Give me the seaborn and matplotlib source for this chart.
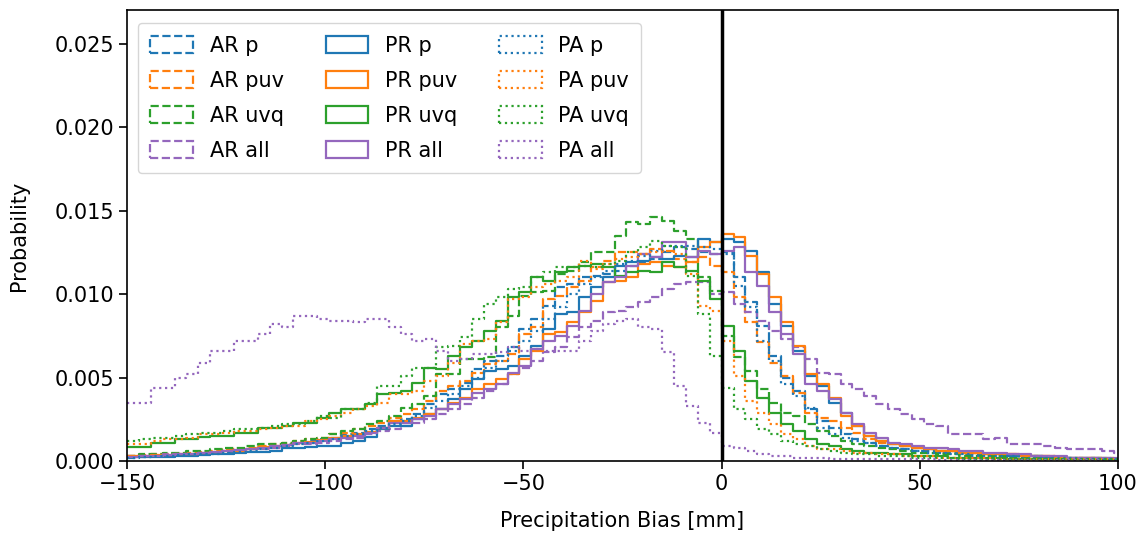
import numpy as np
import pandas as pd
import matplotlib
matplotlib.use("Agg")
import matplotlib.pyplot as plt
import seaborn as sns
from matplotlib.patches import Patch

# Histogram bins: 3 mm wide, starting at -150 mm
bin_edges = np.arange(-150, 103, 3)

variables = ["p", "puv", "uvq", "all"]
groups = ["AR", "PR", "PA"]

# ---- AR (dashed) ----
AR_p = [0.0002, 0.00025, 0.0003, 0.0003, 0.00035, 0.0004, 0.00045, 0.0005, 0.00055, 0.0006,
        0.0007, 0.0008, 0.0009, 0.0010, 0.0011, 0.0012, 0.0013, 0.0014, 0.0016, 0.0017,
        0.0019, 0.0021, 0.0024, 0.0025, 0.0028, 0.0034, 0.0040, 0.0043, 0.0047, 0.0055,
        0.0060, 0.0063, 0.0068, 0.0079, 0.0085, 0.0093, 0.0104, 0.0106, 0.0110, 0.0111,
        0.0112, 0.0114, 0.0117, 0.0119, 0.0121, 0.0125, 0.0128, 0.0127, 0.0125, 0.0124,
        0.0125, 0.0110, 0.0095, 0.0081, 0.0063, 0.0050, 0.0042, 0.0031, 0.0024, 0.0020,
        0.0016, 0.0013, 0.0011, 0.0009, 0.0008, 0.0007, 0.0006, 0.0006, 0.0005, 0.0005,
        0.0004, 0.0004, 0.0004, 0.0003, 0.0003, 0.0003, 0.0003, 0.0002, 0.0002, 0.0002,
        0.0002, 0.0002, 0.0002, 0.0001]
AR_puv = [0.0003, 0.00035, 0.0004, 0.0004, 0.00045, 0.0005, 0.00055, 0.0006, 0.0007, 0.0007,
          0.0008, 0.0009, 0.0010, 0.0011, 0.0012, 0.0013, 0.0014, 0.0016, 0.0017, 0.0019,
          0.0021, 0.0023, 0.0026, 0.0028, 0.0031, 0.0036, 0.0042, 0.0045, 0.0048, 0.0053,
          0.0058, 0.0060, 0.0064, 0.0076, 0.0080, 0.0097, 0.0099, 0.0104, 0.0108, 0.0116,
          0.0120, 0.0125, 0.0125, 0.0124, 0.0127, 0.0126, 0.0121, 0.0119, 0.0122, 0.0117,
          0.0113, 0.0098, 0.0083, 0.0071, 0.0059, 0.0051, 0.0041, 0.0029, 0.0026, 0.0024,
          0.0020, 0.0017, 0.0013, 0.0011, 0.0010, 0.0009, 0.0008, 0.0007, 0.0006, 0.0006,
          0.0005, 0.0005, 0.0004, 0.0004, 0.0004, 0.0003, 0.0003, 0.0003, 0.0002, 0.0002,
          0.0002, 0.0002, 0.0002, 0.0001]
AR_uvq = [0.0003, 0.0004, 0.0004, 0.0005, 0.0005, 0.0006, 0.0006, 0.0007, 0.0008, 0.0008,
          0.0009, 0.0010, 0.0010, 0.0011, 0.0012, 0.0013, 0.0014, 0.0016, 0.0018, 0.0019,
          0.0022, 0.0024, 0.0027, 0.0032, 0.0034, 0.0039, 0.0052, 0.0052, 0.0061, 0.0061,
          0.0062, 0.0080, 0.0087, 0.0099, 0.0101, 0.0102, 0.0112, 0.0114, 0.0119, 0.0125,
          0.0125, 0.0135, 0.0143, 0.0142, 0.0146, 0.0144, 0.0138, 0.0133, 0.0110, 0.0102,
          0.0075, 0.0062, 0.0054, 0.0043, 0.0035, 0.0029, 0.0027, 0.0022, 0.0018, 0.0015,
          0.0012, 0.0010, 0.0009, 0.0008, 0.0007, 0.0006, 0.0005, 0.0005, 0.0004, 0.0004,
          0.0003, 0.0003, 0.0003, 0.0003, 0.0002, 0.0002, 0.0002, 0.0002, 0.0002, 0.0001,
          0.0001, 0.0001, 0.0001, 0.0001]
AR_all = [0.0003, 0.0003, 0.00035, 0.0004, 0.0004, 0.00045, 0.0005, 0.0005, 0.0006, 0.0006,
          0.0007, 0.0007, 0.0008, 0.0009, 0.0010, 0.0010, 0.0011, 0.0012, 0.0013, 0.0014,
          0.0016, 0.0018, 0.0019, 0.0021, 0.0023, 0.0025, 0.0028, 0.0031, 0.0034, 0.0038,
          0.0042, 0.0046, 0.0052, 0.0056, 0.0060, 0.0065, 0.0068, 0.0074, 0.0080, 0.0084,
          0.0089, 0.0090, 0.0092, 0.0095, 0.0098, 0.0103, 0.0106, 0.0107, 0.0107, 0.0100,
          0.0101, 0.0094, 0.0089, 0.0084, 0.0078, 0.0073, 0.0068, 0.0061, 0.0053, 0.0052,
          0.0046, 0.0043, 0.0039, 0.0034, 0.0031, 0.0028, 0.0025, 0.0022, 0.0021, 0.0016,
          0.0016, 0.0016, 0.0013, 0.0014, 0.0010, 0.0010, 0.0010, 0.0009, 0.0008, 0.0007,
          0.0007, 0.0007, 0.0006, 0.0005]

# ---- PR (solid) ----
PR_p = [0.00022, 0.00024, 0.00026, 0.00026, 0.00030, 0.00032, 0.00036, 0.00040, 0.00042, 0.00050,
        0.00055, 0.00056, 0.00060, 0.00075, 0.00080, 0.00082, 0.00088, 0.00092, 0.00105, 0.00118,
        0.00146, 0.0019, 0.0021, 0.0021, 0.0025, 0.0028, 0.0031, 0.0037, 0.0043, 0.0049,
        0.0054, 0.0055, 0.0057, 0.0063, 0.0069, 0.0079, 0.0088, 0.0089, 0.0098, 0.0104,
        0.0110, 0.0117, 0.0119, 0.0120, 0.0122, 0.0121, 0.0123, 0.0122, 0.0133, 0.0131,
        0.0133, 0.0131, 0.0126, 0.0113, 0.0094, 0.0081, 0.0066, 0.0051, 0.0045, 0.0035,
        0.0029, 0.0021, 0.0015, 0.0012, 0.0010, 0.0009, 0.0008, 0.0007, 0.0006, 0.0006,
        0.0005, 0.0005, 0.0004, 0.0004, 0.0003, 0.0003, 0.0003, 0.0002, 0.0002, 0.0002,
        0.0002, 0.0002, 0.0001, 0.0001]
PR_puv = [0.00030, 0.00032, 0.00035, 0.00038, 0.00040, 0.00045, 0.00050, 0.00052, 0.00058, 0.00062,
          0.00070, 0.00085, 0.00090, 0.00098, 0.00110, 0.00112, 0.00125, 0.00135, 0.00150, 0.00160,
          0.00175, 0.0020, 0.0024, 0.0024, 0.0026, 0.0028, 0.0031, 0.0035, 0.0038, 0.0043,
          0.0046, 0.0049, 0.0052, 0.0061, 0.0066, 0.0076, 0.0077, 0.0083, 0.0089, 0.0096,
          0.0107, 0.0108, 0.0110, 0.0118, 0.0119, 0.0117, 0.0116, 0.0119, 0.0128, 0.0131,
          0.0136, 0.0134, 0.0123, 0.0112, 0.0098, 0.0083, 0.0069, 0.0052, 0.0046, 0.0038,
          0.0027, 0.0021, 0.0015, 0.0012, 0.0010, 0.0009, 0.0008, 0.0007, 0.0006, 0.0006,
          0.0005, 0.0005, 0.0004, 0.0004, 0.0004, 0.0003, 0.0003, 0.0003, 0.0002, 0.0002,
          0.0002, 0.0002, 0.0001, 0.0001]
PR_uvq = [0.00086, 0.00086, 0.0011, 0.0011, 0.0013, 0.0013, 0.00146, 0.00148, 0.0015, 0.0017,
          0.0017, 0.00196, 0.00196, 0.0021, 0.0023, 0.0023, 0.0026, 0.0029, 0.0031, 0.0031,
          0.0034, 0.0040, 0.0041, 0.0042, 0.0047, 0.0056, 0.0055, 0.0063, 0.0068, 0.0072,
          0.0078, 0.0084, 0.0098, 0.0101, 0.0110, 0.0108, 0.0113, 0.0116, 0.0117, 0.0118,
          0.0116, 0.0111, 0.0113, 0.0114, 0.0113, 0.0119, 0.0116, 0.0114, 0.0108, 0.0097,
          0.0081, 0.0066, 0.0048, 0.0038, 0.0029, 0.0022, 0.0018, 0.0013, 0.0010, 0.0009,
          0.0007, 0.0006, 0.0005, 0.0005, 0.0004, 0.0004, 0.0003, 0.0003, 0.0003, 0.0002,
          0.0002, 0.0002, 0.0002, 0.0002, 0.0001, 0.0001, 0.0001, 0.0001, 0.0001, 0.0001,
          0.0001, 0.0001, 0.0001, 0.0001]
PR_all = [0.00025, 0.00028, 0.00030, 0.00035, 0.00040, 0.00045, 0.00050, 0.00055, 0.00060, 0.00065,
          0.00070, 0.00080, 0.00090, 0.00095, 0.00105, 0.0011, 0.0012, 0.0013, 0.0014, 0.0015,
          0.0017, 0.0020, 0.0023, 0.0023, 0.0025, 0.0027, 0.0031, 0.0034, 0.0037, 0.0041,
          0.0043, 0.0046, 0.0053, 0.0057, 0.0067, 0.0072, 0.0075, 0.0081, 0.0090, 0.0100,
          0.0107, 0.0110, 0.0117, 0.0124, 0.0122, 0.0131, 0.0131, 0.0122, 0.0126, 0.0124,
          0.0126, 0.0128, 0.0113, 0.0105, 0.0089, 0.0076, 0.0064, 0.0046, 0.0042, 0.0037,
          0.0029, 0.0022, 0.0017, 0.0014, 0.0011, 0.0010, 0.0009, 0.0008, 0.0008, 0.0007,
          0.0006, 0.0006, 0.0005, 0.0005, 0.0004, 0.0004, 0.0003, 0.0003, 0.0003, 0.0002,
          0.0002, 0.0002, 0.0002, 0.0002]

# ---- PA (dotted) ----
PA_p = [0.0002, 0.00025, 0.0003, 0.0003, 0.00035, 0.0004, 0.0004, 0.00045, 0.0005, 0.00055,
        0.0006, 0.0007, 0.0008, 0.0009, 0.0010, 0.0011, 0.0012, 0.0013, 0.0015, 0.0016,
        0.0018, 0.0020, 0.0022, 0.0024, 0.0027, 0.0032, 0.0036, 0.0040, 0.0045, 0.0050,
        0.0056, 0.0060, 0.0066, 0.0072, 0.0078, 0.0085, 0.0092, 0.0100, 0.0106, 0.0110,
        0.0114, 0.0118, 0.0120, 0.0123, 0.0126, 0.0129, 0.0129, 0.0129, 0.0128, 0.0127,
        0.0124, 0.0105, 0.0092, 0.0072, 0.0060, 0.0046, 0.0039, 0.0032, 0.0020, 0.0016,
        0.0014, 0.0012, 0.0011, 0.0009, 0.0008, 0.0007, 0.0006, 0.0005, 0.0005, 0.0004,
        0.0004, 0.0003, 0.0003, 0.0003, 0.0003, 0.0002, 0.0002, 0.0002, 0.0002, 0.0002,
        0.0001, 0.0001, 0.0001, 0.0001]
PA_puv = [0.0010, 0.0010, 0.0012, 0.0013, 0.0013, 0.0014, 0.0016, 0.0016, 0.0017, 0.0018,
          0.0018, 0.0019, 0.0020, 0.0021, 0.0021, 0.0024, 0.0025, 0.0027, 0.0029, 0.0031,
          0.0033, 0.0035, 0.0040, 0.0040, 0.0042, 0.0048, 0.0051, 0.0059, 0.0070, 0.0072,
          0.0073, 0.0083, 0.0097, 0.0098, 0.0104, 0.0106, 0.0108, 0.0110, 0.0120, 0.0115,
          0.0118, 0.0121, 0.0122, 0.0124, 0.0125, 0.0126, 0.0124, 0.0112, 0.0093, 0.0090,
          0.0072, 0.0051, 0.0036, 0.0029, 0.0022, 0.0016, 0.0013, 0.0009, 0.0007, 0.0007,
          0.0006, 0.0005, 0.0005, 0.0004, 0.0004, 0.0003, 0.0003, 0.0003, 0.0002, 0.0002,
          0.0002, 0.0002, 0.0002, 0.0001, 0.0001, 0.0001, 0.0001, 0.0001, 0.0001, 0.0001,
          0.0001, 0.0001, 0.0001, 0.0001]
PA_uvq = [0.0012, 0.0013, 0.0014, 0.0014, 0.0015, 0.0016, 0.0017, 0.0017, 0.0018, 0.0019,
          0.0019, 0.0020, 0.0021, 0.0022, 0.0022, 0.0024, 0.0027, 0.0026, 0.0031, 0.0031,
          0.0035, 0.0045, 0.0045, 0.0051, 0.0056, 0.0056, 0.0068, 0.0069, 0.0074, 0.0085,
          0.0094, 0.0098, 0.0103, 0.0104, 0.0110, 0.0113, 0.0116, 0.0116, 0.0117, 0.0116,
          0.0118, 0.0120, 0.0125, 0.0128, 0.0132, 0.0129, 0.0128, 0.0111, 0.0088, 0.0063,
          0.0044, 0.0031, 0.0025, 0.0019, 0.0016, 0.0012, 0.0010, 0.0009, 0.0007, 0.0006,
          0.0005, 0.0004, 0.0004, 0.0003, 0.0003, 0.0003, 0.0002, 0.0002, 0.0002, 0.0002,
          0.0001, 0.0001, 0.0001, 0.0001, 0.0001, 0.0001, 0.0001, 0.0001, 0.0001, 0.0001,
          0.0001, 0.0001, 0.0001, 0.0001]
PA_all = [0.0035, 0.0035, 0.0044, 0.0044, 0.0050, 0.0052, 0.0059, 0.0066, 0.0066, 0.0072,
          0.0072, 0.0076, 0.0082, 0.0080, 0.0087, 0.0087, 0.0085, 0.0084, 0.0084, 0.0083,
          0.0085, 0.0085, 0.0080, 0.0076, 0.0072, 0.0073, 0.0066, 0.0060, 0.0061, 0.0064,
          0.0064, 0.0065, 0.0068, 0.0066, 0.0067, 0.0066, 0.0066, 0.0066, 0.0072, 0.0078,
          0.0082, 0.0084, 0.0085, 0.0080, 0.0079, 0.0065, 0.0045, 0.0033, 0.0023, 0.0017,
          0.0009, 0.0008, 0.0006, 0.0004, 0.0003, 0.0003, 0.0002, 0.0002, 0.0002, 0.00015,
          0.00015, 0.0001, 0.0001, 0.0001, 0.0001, 0.0001, 0.0001, 0.0001, 0.00008, 0.00008,
          0.00008, 0.00006, 0.00006, 0.00006, 0.00005, 0.00005, 0.00005, 0.00005, 0.00004, 0.00004,
          0.00004, 0.00004, 0.00003, 0.00003]

series = {
    "AR": [AR_p, AR_puv, AR_uvq, AR_all],
    "PR": [PR_p, PR_puv, PR_uvq, PR_all],
    "PA": [PA_p, PA_puv, PA_uvq, PA_all],
}
linestyles = {"AR": "--", "PR": "-", "PA": ":"}
colors = ["#1f77b4", "#ff7f0e", "#2ca02c", "#9467bd"]

plt.rcParams["font.family"] = ["DejaVu Sans"]
fig, ax = plt.subplots(figsize=(11.48, 5.37), dpi=100)
fig.subplots_adjust(left=0.1106, right=0.9739, top=0.981, bottom=0.1415)

bin_centers = (bin_edges[:-1] + bin_edges[1:]) / 2
handles = []
for g in groups:
    for var, vals, col in zip(variables, series[g], colors):
        df = pd.DataFrame({"bias": bin_centers, "w": vals})
        sns.histplot(data=df, x="bias", weights="w", bins=list(bin_edges), element="step",
                     fill=False, color=col, linestyle=linestyles[g], linewidth=1.6,
                     ax=ax)
        handles.append(Patch(facecolor="none", edgecolor=col, linestyle=linestyles[g],
                             linewidth=1.6, label=f"{g} {var}"))

ax.axvline(0, color="black", linewidth=2.5)
ax.set_xlim(-150, 100)
ax.set_ylim(0, 0.027)
ax.set_yticks([0.0, 0.005, 0.010, 0.015, 0.020, 0.025])
ax.set_yticklabels(["0.000", "0.005", "0.010", "0.015", "0.020", "0.025"])
ax.set_xticks([-150, -100, -50, 0, 50, 100])
ax.set_xticklabels(["\u2212150", "\u2212100", "\u221250", "0", "50", "100"])
ax.tick_params(axis="both", labelsize=15, length=6, width=1.2)
for s in ax.spines.values():
    s.set_linewidth(1.2)
ax.set_xlabel("Precipitation Bias [mm]", fontsize=15, labelpad=12)
ax.set_ylabel("Probability", fontsize=15, labelpad=18)
ax.legend(handles=handles, loc="upper left", ncol=3, fontsize=15, columnspacing=2.0,
          labelspacing=0.72, handleheight=0.85, handlelength=2.05, borderpad=0.6,
          borderaxespad=0.0, bbox_to_anchor=(0.0111, 0.9712))

fig.savefig("out.png", dpi=100)
